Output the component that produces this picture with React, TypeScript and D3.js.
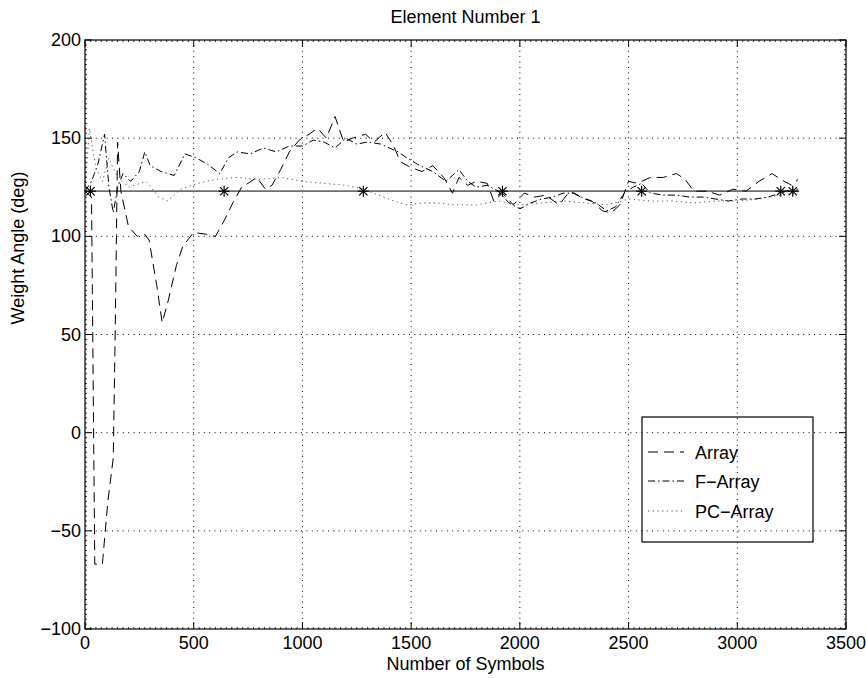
import React from "react";
import * as d3 from "d3";

const xTicks = [0, 500, 1000, 1500, 2000, 2500, 3000, 3500];
const yTicks = [-100, -50, 0, 50, 100, 150, 200];
const yTickLabels = ["\u2212100", "\u221250", "0", "50", "100", "150", "200"];

const arraySymbols = [0, 30, 45, 80, 105, 130, 140, 150, 165, 200, 240, 275, 295, 330, 355, 380, 420, 450, 500, 560, 600, 640, 680, 720, 750, 790, 830, 860, 900, 940, 985, 1030, 1070, 1110, 1150, 1190, 1230, 1290, 1330, 1380, 1420, 1450, 1500, 1550, 1600, 1650, 1690, 1720, 1760, 1800, 1850, 1880, 1920, 1970, 2020, 2070, 2120, 2180, 2230, 2280, 2330, 2380, 2420, 2460, 2500, 2540, 2600, 2660, 2720, 2760, 2800, 2860, 2920, 2980, 3040, 3100, 3160, 3200, 3250, 3280];
const arrayAngles = [123, 120, -67, -67, -35, -13, 60, 148, 123, 105, 100, 101, 98, 75, 56, 66, 85, 95, 102, 101, 100, 108, 117, 125, 127, 130, 124, 126, 134, 143, 149, 152, 155, 150, 161, 148, 150, 152, 148, 153, 146, 138, 135, 133, 136, 130, 122, 130, 126, 128, 127, 118, 122, 116, 122, 120, 121, 116, 123, 120, 118, 113, 112, 116, 128, 127, 130, 130, 132, 129, 123, 123, 121, 124, 123, 128, 132, 129, 126, 129];

const fArraySymbols = [0, 30, 60, 90, 110, 130, 150, 175, 210, 250, 275, 300, 350, 410, 460, 510, 560, 620, 660, 700, 760, 820, 880, 940, 1000, 1050, 1100, 1150, 1200, 1250, 1300, 1360, 1400, 1440, 1480, 1540, 1600, 1660, 1720, 1760, 1800, 1850, 1900, 1950, 2000, 2050, 2100, 2150, 2200, 2250, 2300, 2350, 2400, 2440, 2480, 2520, 2560, 2600, 2660, 2720, 2780, 2840, 2900, 2960, 3020, 3080, 3140, 3200, 3250, 3280];
const fArrayAngles = [123, 128, 137, 152, 125, 112, 125, 132, 128, 133, 143, 136, 133, 131, 142, 140, 137, 132, 140, 143, 142, 145, 143, 146, 146, 149, 148, 145, 150, 147, 148, 147, 145, 143, 140, 136, 133, 128, 134, 128, 125, 126, 123, 117, 114, 117, 119, 120, 122, 122, 119, 117, 113, 115, 122, 125, 127, 122, 121, 121, 120, 120, 119, 118, 119, 119, 120, 122, 124, 124];

const pcArraySymbols = [0, 20, 50, 80, 110, 140, 200, 280, 340, 380, 440, 520, 600, 700, 800, 900, 1000, 1100, 1200, 1280, 1350, 1420, 1480, 1550, 1620, 1700, 1800, 1900, 2000, 2100, 2200, 2300, 2400, 2500, 2600, 2700, 2800, 2900, 3000, 3100, 3200, 3280];
const pcArrayAngles = [123, 155, 135, 128, 140, 132, 125, 128, 120, 118, 124, 127, 129, 130, 129, 130, 128, 127, 126, 124, 121, 118, 116, 117, 117, 116, 116, 118, 116, 117, 118, 117, 116, 119, 118, 118, 117, 118, 118, 119, 121, 122];

const trueSymbols = [0, 3285];
const trueAngles = [123, 123];
const markerSymbols = [25, 640, 1280, 1920, 2560, 3200, 3255];
const markerAngle = 123;

const legendLabels = ["Array", "F\u2212Array", "PC\u2212Array"];

const W = 866;
const H = 678;
const L = 85, R = 846, T = 40, B = 629;
const FONT = "'Liberation Sans', Arial, Helvetica, sans-serif";
const FS = 18;

export default function App() {
  const x = d3.scaleLinear().domain([0, 3500]).range([L, R]);
  const y = d3.scaleLinear().domain([-100, 200]).range([B, T]);
  const line = d3.line<[number, number]>().x(d => x(d[0])).y(d => y(d[1]));
  const zip = (a: number[], b: number[]) => a.map((v, i) => [v, b[i]] as [number, number]);

  const series = [
    { d: zip(arraySymbols, arrayAngles), dash: "10,6", color: "#000", w: 1 },
    { d: zip(fArraySymbols, fArrayAngles), dash: "7,3,1.5,3", color: "#000", w: 1 },
    { d: zip(pcArraySymbols, pcArrayAngles), dash: "1.2,3.5", color: "#555", w: 1 },
  ];

  const minorX: number[] = [];
  for (let v = 0; v <= 3500; v += 25) if (v % 500 !== 0) minorX.push(v);
  const minorY: number[] = [];
  for (let v = -100; v <= 200; v += 2.5) if (Math.abs(v % 50) > 0.01) minorY.push(v);

  const star = (cx: number, cy: number, r: number, k: number) => (
    <g key={k} stroke="#000" strokeWidth={1.2}>
      <line x1={cx - r} y1={cy} x2={cx + r} y2={cy} />
      <line x1={cx} y1={cy - r} x2={cx} y2={cy + r} />
      <line x1={cx - r * 0.75} y1={cy - r * 0.75} x2={cx + r * 0.75} y2={cy + r * 0.75} />
      <line x1={cx - r * 0.75} y1={cy + r * 0.75} x2={cx + r * 0.75} y2={cy - r * 0.75} />
    </g>
  );

  const legX = 642, legY = 417, legW = 171, legH = 125;
  const legRows = [452, 481, 511];

  return (
    <svg width={W} height={H} style={{ position: "absolute", left: 0, top: 0, background: "#fff" }} fontFamily={FONT}>
      <rect x={0} y={0} width={W} height={H} fill="#fff" />
      {/* grid */}
      <g stroke="#000" strokeWidth={1} strokeDasharray="1,4.4">
        {xTicks.slice(1, -1).map(v => (
          <line key={"gx" + v} x1={x(v)} x2={x(v)} y1={T} y2={B} />
        ))}
        {yTicks.slice(1, -1).map(v => (
          <line key={"gy" + v} x1={L} x2={R} y1={y(v)} y2={y(v)} />
        ))}
      </g>
      {/* minor ticks */}
      <g stroke="#000" strokeWidth={0.8}>
        {minorX.map(v => (
          <g key={"mx" + v}>
            <line x1={x(v)} x2={x(v)} y1={B} y2={B - 2} />
            <line x1={x(v)} x2={x(v)} y1={T} y2={T + 2} />
          </g>
        ))}
        {minorY.map(v => (
          <g key={"my" + v}>
            <line x1={L} x2={L + 2} y1={y(v)} y2={y(v)} />
            <line x1={R} x2={R - 2} y1={y(v)} y2={y(v)} />
          </g>
        ))}
      </g>
      {/* major ticks */}
      <g stroke="#000" strokeWidth={1}>
        {xTicks.map(v => (
          <g key={"tx" + v}>
            <line x1={x(v)} x2={x(v)} y1={B} y2={B - 7} />
            <line x1={x(v)} x2={x(v)} y1={T} y2={T + 7} />
          </g>
        ))}
        {yTicks.map(v => (
          <g key={"ty" + v}>
            <line x1={L} x2={L + 7} y1={y(v)} y2={y(v)} />
            <line x1={R} x2={R - 7} y1={y(v)} y2={y(v)} />
          </g>
        ))}
      </g>
      {/* true angle */}
      <path d={line(zip(trueSymbols, trueAngles)) || ""} fill="none" stroke="#6e6e6e" strokeWidth={1.8} />
      {markerSymbols.map((s, i) => star(x(s), y(markerAngle), 5.5, i))}
      {/* series */}
      {series.map((s, i) => (
        <path key={i} d={line(s.d) || ""} fill="none" stroke={s.color} strokeWidth={s.w} strokeDasharray={s.dash} />
      ))}
      {/* axes box */}
      <rect x={L} y={T} width={R - L} height={B - T} fill="none" stroke="#000" strokeWidth={1.2} />
      {/* tick labels */}
      <g fontSize={FS} fill="#000">
        {xTicks.map(v => (
          <text key={"lx" + v} x={x(v)} y={B + 20} textAnchor="middle">{v}</text>
        ))}
        {yTicks.map((v, i) => (
          <text key={"ly" + v} x={L - 4} y={y(v) + 6} textAnchor="end">{yTickLabels[i]}</text>
        ))}
      </g>
      <text x={(L + R) / 2} y={670} textAnchor="middle" fontSize={FS}>Number of Symbols</text>
      <text x={(L + R) / 2} y={23} textAnchor="middle" fontSize={FS}>Element Number 1</text>
      <text transform={`translate(24,248) rotate(-90)`} textAnchor="middle" fontSize={FS}>Weight Angle (deg)</text>
      {/* legend */}
      <rect x={legX} y={legY} width={legW} height={legH} fill="none" stroke="#000" strokeWidth={1.2} />
      {series.map((s, i) => (
        <g key={"lg" + i}>
          <line x1={648} x2={684} y1={legRows[i]} y2={legRows[i]} stroke={s.color} strokeWidth={1} strokeDasharray={s.dash} />
          <text x={695} y={legRows[i] + 6.5} fontSize={FS}>{legendLabels[i]}</text>
        </g>
      ))}
    </svg>
  );
}
